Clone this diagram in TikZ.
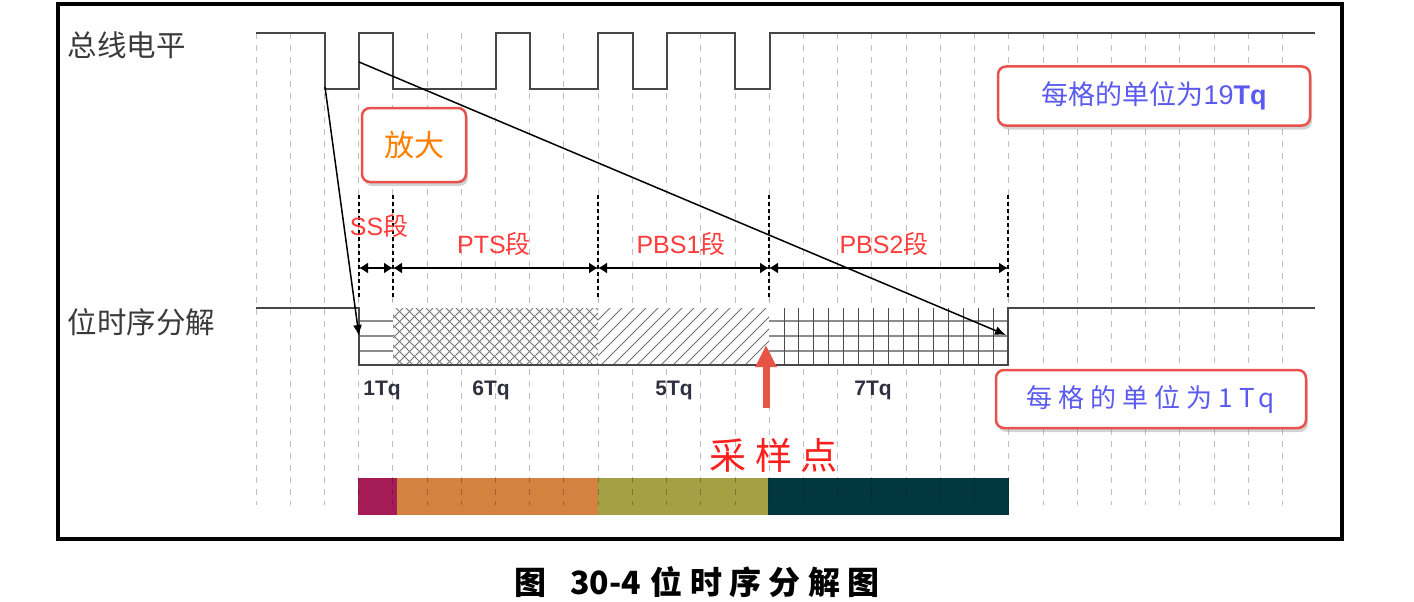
\documentclass[tikz,border=0pt]{standalone}
\usepackage{fontspec}
\setmainfont{Liberation Sans}
\newfontfamily\cjk{Noto Sans CJK SC}
\newfontfamily\cjkwide[LetterSpace=23]{Noto Sans CJK SC}
\usetikzlibrary{arrows.meta,shadows}
\definecolor{wavegray}{HTML}{474747}
\definecolor{labelgray}{HTML}{3A3A3A}
\definecolor{segred}{HTML}{FF3C3C}
\definecolor{tqgray}{HTML}{30303E}
\definecolor{noteborder}{HTML}{E8514C}
\definecolor{notetext}{HTML}{5A5AF0}
\definecolor{zoomorange}{HTML}{FF8000}
\definecolor{samplered}{HTML}{E65446}
\definecolor{samptext}{HTML}{FF1E1E}
\definecolor{ssbar}{HTML}{A51B55}
\definecolor{ptsbar}{HTML}{D38240}
\definecolor{pbsonebar}{HTML}{A5A044}
\definecolor{pbstwobar}{HTML}{02373F}
\tikzset{
 wave/.style={draw=wavegray,line width=2pt},
 gridline/.style={draw=black,draw opacity=0.25,line width=1pt,dash pattern=on 6pt off 6pt},
 segline/.style={draw=black,line width=1.2pt,dash pattern=on 4pt off 3pt},
 hatch/.style={draw=black!55,line width=0.8pt},
 dim/.style={{Latex[length=9pt,width=11pt]}-{Latex[length=9pt,width=11pt]},line width=1.3pt},
 zoomline/.style={-{Latex[length=11pt,width=9pt]},line width=1.5pt},
 samplearrow/.style={-{Triangle[length=22pt,width=20pt]},line width=7pt,draw=samplered},
 note/.style={draw=noteborder,line width=2.5pt,rounded corners=8pt,fill=white,inner sep=0pt,
              drop shadow={opacity=0.35,shadow xshift=2pt,shadow yshift=-4pt}},
 axislabel/.style={anchor=west,text=labelgray,font=\cjk\fontsize{29.5}{31}\selectfont},
 seglabel/.style={text=segred,font=\fontsize{25}{27}\selectfont},
 tqlabel/.style={text=tqgray,font=\bfseries\fontsize{21}{23}\selectfont},
}

\begin{document}
\begin{tikzpicture}[x=1pt,y=-1pt]
\useasboundingbox (0,0) rectangle (1414,602);
% colour bar
\fill[ssbar] (358,478) rectangle (397,515);
\fill[ptsbar] (397,478) rectangle (598,515);
\fill[pbsonebar] (598,478) rectangle (768,515);
\fill[pbstwobar] (768,478) rectangle (1009,515);
% grid
\foreach \i in {0,...,30}
  \draw[gridline] ({256+34.22*\i},33) -- ({256+34.22*\i},505);
% bit segments
\fill[white] (359,308) rectangle (1008,365);
\foreach \y in {321,336,351}
  \draw[hatch,draw=black!45,line width=1.2pt] (359,\y) -- (393,\y);
\begin{scope}
 \clip (393,308) rectangle (598,365);
 \foreach \x in {336,346,...,606} {
  \draw[hatch] (\x,365) -- ++(57,-57);
  \draw[hatch] (\x,308) -- ++(57,57);
 }
\end{scope}
\begin{scope}
 \clip (598,308) rectangle (769,365);
 \foreach \x in {541,553,...,769}
  \draw[hatch] (\x,365) -- ++(57,-57);
\end{scope}
\foreach \y in {321,336,351}
  \draw[hatch,draw=black!45,line width=1.2pt] (769,\y) -- (1008,\y);
\foreach \k in {1,...,15}
  \draw[hatch,draw=black!70] ({769+239/16*\k},308) -- ++(0,57);
% waveforms
\draw[wave] (256,33) -- (325,33) -- (325,89) -- (359,89) -- (359,33) -- (393,33)
  -- (393,89) -- (496,89) -- (496,33) -- (530,33) -- (530,89) -- (598,89)
  -- (598,33) -- (633,33) -- (633,89) -- (667,89) -- (667,33) -- (735,33)
  -- (735,89) -- (770,89) -- (770,33) -- (1315,33);
\draw[wave] (256,308) -- (359,308) -- (359,365) -- (1008,365) -- (1008,308) -- (1315,308);
% segment marks
\foreach \x [count=\k from 0] in {359,393,598,769,1008} {
  \coordinate (b\k) at (\x,268);
  \draw[segline] (\x,195) -- (\x,300);
}
\draw[dim] (b0) -- (b1);
\draw[dim] (b1) -- (b2);
\draw[dim] (b2) -- (b3);
\draw[dim] (b3) -- (b4);
\node[seglabel] (ss) at (379,226) {SS{\cjk 段}};
\node[seglabel] (pts) at (494,244) {PTS{\cjk 段}};
\node[seglabel] (pbsone) at (681,244) {PBS1{\cjk 段}};
\node[seglabel] (pbstwo) at (884,244) {PBS2{\cjk 段}};
\node[tqlabel] (tqss) at (382,390) {1Tq};
\node[tqlabel] (tqpts) at (491,390) {6Tq};
\node[tqlabel] (tqpbsone) at (674,390) {5Tq};
\node[tqlabel] (tqpbstwo) at (873,390) {7Tq};
% axis labels
\node[axislabel] (bus) at (64,45) {总线电平};
\node[axislabel] (bit) at (64,322) {位时序分解};
% zoom lines
\coordinate (zoomA) at (325,87);
\coordinate (zoomAend) at (359,336);
\coordinate (zoomB) at (359,62);
\coordinate (zoomBend) at (1006,335);
\draw[zoomline] (zoomA) -- (zoomAend);
\draw[zoomline] (zoomB) -- (zoomBend);
% sample point
\coordinate (sampfoot) at (766,408);
\coordinate (samptip) at (766,345);
\draw[samplearrow] (sampfoot) -- (samptip);
\node[text=samptext,font=\cjkwide\fontsize{37}{39}\selectfont] (sample) at (774,455) {采样点};
% notes
\node[note,minimum width=104pt,minimum height=74pt,text=zoomorange,
      font=\cjk\fontsize{30}{32}\selectfont] (zoomnote) at (414,145) {放大};
\node[note,minimum width=312pt,minimum height=59pt,text=notetext,
      font=\fontsize{27}{29}\selectfont] (unitbig) at (1154,96) {{\cjk 每格的单位为}19\textbf{Tq}};
\node[note,minimum width=310pt,minimum height=58pt,text=notetext,
      font=\cjkwide\fontsize{26}{28}\selectfont] (unitsmall) at (1151,399) {每格的单位为1Tq};
% frame and caption
\draw[line width=4pt] (58,4) rectangle (1342,539);
\node[font=\bfseries\fontsize{32}{34}\selectfont] (caption) at (697,582)
  {{\cjk 图}\hspace{0.75em}{\cjk 30-4}\hspace{0.3em}{\cjkwide 位时序分解图}};
\end{tikzpicture}
\end{document}
